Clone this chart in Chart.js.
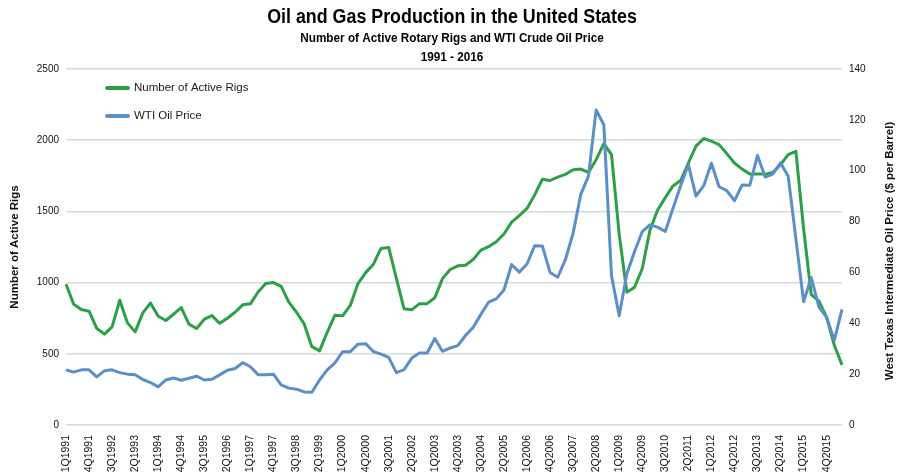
<!DOCTYPE html>
<html>
<head>
<meta charset="utf-8">
<script src="https://cdn.jsdelivr.net/npm/chart.js@4.4.1/dist/chart.umd.min.js"></script>
<style>
  html, body { margin: 0; padding: 0; background: #fff; }
  #wrap { width: 900px; height: 475px; }
</style>
</head>
<body>
<div id="wrap"><canvas id="chart"></canvas></div>
<script>
// quarterly, 1Q1991 .. 2Q2016
const quarters = [];
for (let y = 1991; y <= 2016; y++) {
  for (let q = 1; q <= 4; q++) {
    if (y === 2016 && q > 2) break;
    quarters.push(q + 'Q' + y);
  }
}

// Baker Hughes active rotary rigs (quarterly average)
const rigs = [
  988, 848, 811, 799,      // 1991
  678, 638, 689, 876,      // 1992
  717, 654, 787, 857,      // 1993
  764, 734, 778, 825,      // 1994
  708, 678, 743, 768,      // 1995
  714, 750, 792, 844,      // 1996
  851, 934, 993, 1000,     // 1997
  974, 863, 792, 710,      // 1998
  550, 521, 651, 771,      // 1999
  767, 840, 993, 1070,     // 2000
  1128, 1240, 1247, 1030,  // 2001
  816, 809, 852, 852,      // 2002
  894, 1028, 1092, 1118,   // 2003
  1122, 1162, 1228, 1252,  // 2004
  1287, 1341, 1425, 1470,  // 2005
  1521, 1616, 1726, 1717,  // 2006
  1741, 1760, 1792, 1797,  // 2007
  1774, 1863, 1976, 1899,  // 2008
  1340, 932, 967, 1097,    // 2009
  1368, 1510, 1597, 1679,  // 2010
  1717, 1840, 1958, 2012,  // 2011
  1993, 1969, 1906, 1840,  // 2012
  1797, 1762, 1762, 1762,  // 2013
  1774, 1828, 1899, 1922,  // 2014
  1380, 915, 870, 758,     // 2015
  560, 422                 // 2016
];

// WTI crude, $ per barrel (quarterly average)
const wti = [
  21.7, 20.8, 21.7, 21.7,
  18.9, 21.3, 21.7, 20.6,
  20.0, 19.8, 17.9, 16.7,
  15.0, 17.7, 18.5, 17.6,
  18.4, 19.2, 17.7, 18.0,
  19.7, 21.5, 22.2, 24.5,
  22.9, 19.8, 19.8, 20.0,
  15.8, 14.5, 14.1, 13.0,
  12.9, 17.7, 21.7, 24.4,
  28.8, 28.8, 31.8, 32.0,
  28.9, 27.9, 26.6, 20.6,
  21.8, 26.3, 28.3, 28.3,
  34.0, 29.0, 30.3, 31.2,
  35.2, 38.4, 43.5, 48.3,
  49.6, 53.1, 63.1, 60.1,
  63.3, 70.5, 70.4, 60.0,
  58.1, 65.0, 75.4, 90.7,
  97.9, 123.9, 118.1, 58.7,
  43.0, 59.5, 68.2, 76.0,
  78.7, 77.8, 76.1, 85.2,
  94.1, 102.4, 90.0, 94.1,
  102.9, 93.7, 92.2, 88.2,
  94.4, 94.3, 106.0, 97.5,
  98.7, 103.1, 97.8, 73.2,
  48.5, 58.0, 46.4, 42.3,
  33.4, 45.5
];

const rigTicks = [0, 500, 1000, 1500, 2000, 2500];
const priceTicks = [0, 20, 40, 60, 80, 100, 120, 140];

const titleLines = [
  { text: 'Oil and Gas Production in the United States', size: 20.5, y: 17 },
  { text: 'Number of Active Rotary Rigs and WTI Crude Oil Price', size: 13.5, y: 38 },
  { text: '1991 - 2016', size: 13.5, y: 57 }
];
const rightTitle = 'West Texas Intermediate Oil Price ($ per Barrel)';

const green = '#2ba045';
const blue = '#5b8fc9';
const sans = '"Liberation Sans", Arial, Helvetica, sans-serif';

// headings in a narrow bold face (Arial metrics squeezed horizontally)
const headings = {
  id: 'headings',
  afterDraw(chart) {
    const ctx = chart.ctx;
    const cx = (chart.chartArea.left + chart.chartArea.right) / 2 - 2;
    titleLines.forEach((t) => {
      ctx.save();
      ctx.translate(cx, t.y);
      ctx.scale(0.87, 1);
      ctx.font = 'bold ' + t.size + 'px ' + sans;
      ctx.fillStyle = '#000';
      ctx.textAlign = 'center';
      ctx.textBaseline = 'middle';
      ctx.fillText(t.text, 0, 0);
      ctx.restore();
    });
  }
};

// legend sits inside the plot, top left, stacked
const insideLegend = {
  id: 'insideLegend',
  afterDraw(chart) {
    const ctx = chart.ctx;
    const x0 = chart.chartArea.left + 41;
    chart.data.datasets.forEach((ds, i) => {
      const y = chart.chartArea.top + 19 + i * 28;
      ctx.save();
      ctx.strokeStyle = ds.borderColor;
      ctx.lineWidth = 4;
      ctx.lineCap = 'round';
      ctx.beginPath();
      ctx.moveTo(x0, y);
      ctx.lineTo(x0 + 21, y);
      ctx.stroke();
      ctx.fillStyle = '#1a1a1a';
      ctx.font = '11.5px ' + sans;
      ctx.textBaseline = 'middle';
      ctx.fillText(ds.label, x0 + 27, y);
      ctx.restore();
    });
  }
};

// right axis title reads bottom-to-top like the left one
const rightAxisTitle = {
  id: 'rightAxisTitle',
  afterDraw(chart) {
    const ctx = chart.ctx;
    const a = chart.chartArea;
    ctx.save();
    ctx.translate(chart.width - 10, (a.top + a.bottom) / 2 + 4);
    ctx.rotate(-Math.PI / 2);
    ctx.font = 'bold 11.5px ' + sans;
    ctx.fillStyle = '#111';
    ctx.textAlign = 'center';
    ctx.textBaseline = 'middle';
    ctx.fillText(rightTitle, 0, 0);
    ctx.restore();
  }
};

new Chart(document.getElementById('chart'), {
  type: 'line',
  data: {
    labels: quarters,
    datasets: [
      {
        label: 'Number of Active Rigs',
        data: rigs,
        yAxisID: 'yRigs',
        borderColor: green,
        backgroundColor: green,
        borderWidth: 3,
        pointRadius: 0,
        tension: 0,
        borderJoinStyle: 'round',
        order: 1
      },
      {
        label: 'WTI Oil Price',
        data: wti,
        yAxisID: 'yPrice',
        borderColor: blue,
        backgroundColor: blue,
        borderWidth: 3,
        pointRadius: 0,
        tension: 0,
        borderJoinStyle: 'round',
        order: 0
      }
    ]
  },
  options: {
    responsive: true,
    maintainAspectRatio: false,
    animation: false,
    layout: { padding: { left: 4, right: 0, top: 69, bottom: 0 } },
    plugins: {
      legend: { display: false },
      tooltip: { enabled: false }
    },
    scales: {
      x: {
        offset: false,
        grid: { display: false },
        border: { display: false },
        afterFit(scale) { scale.height = 50; },
        ticks: {
          autoSkip: false,
          minRotation: 90,
          maxRotation: 90,
          padding: 2,
          color: '#111',
          font: { family: sans, size: 10.5 },
          callback(val, idx) { return idx % 3 === 0 ? quarters[idx] : null; }
        }
      },
      yRigs: {
        position: 'left',
        min: rigTicks[0],
        max: rigTicks[rigTicks.length - 1],
        afterFit(scale) { scale.width = 62; },
        afterBuildTicks(scale) { scale.ticks = rigTicks.map(v => ({ value: v })); },
        grid: { color: '#d9d9d9', lineWidth: 1.5, drawTicks: false },
        border: { display: false },
        ticks: {
          padding: 7,
          color: '#111',
          font: { family: sans, size: 10 },
          callback: (v) => String(v)
        },
        title: {
          display: true,
          text: 'Number of Active Rigs',
          color: '#111',
          font: { family: sans, size: 11.5, weight: 'bold' },
          padding: { top: 4, bottom: 0 }
        }
      },
      yPrice: {
        position: 'right',
        min: priceTicks[0],
        max: priceTicks[priceTicks.length - 1],
        afterFit(scale) { scale.width = 58; },
        afterBuildTicks(scale) { scale.ticks = priceTicks.map(v => ({ value: v })); },
        grid: { drawOnChartArea: false, drawTicks: false },
        border: { display: false },
        ticks: {
          padding: 7,
          color: '#111',
          font: { family: sans, size: 10 },
          callback: (v) => String(v)
        }
      }
    }
  },
  plugins: [headings, insideLegend, rightAxisTitle]
});
</script>
</body>
</html>
